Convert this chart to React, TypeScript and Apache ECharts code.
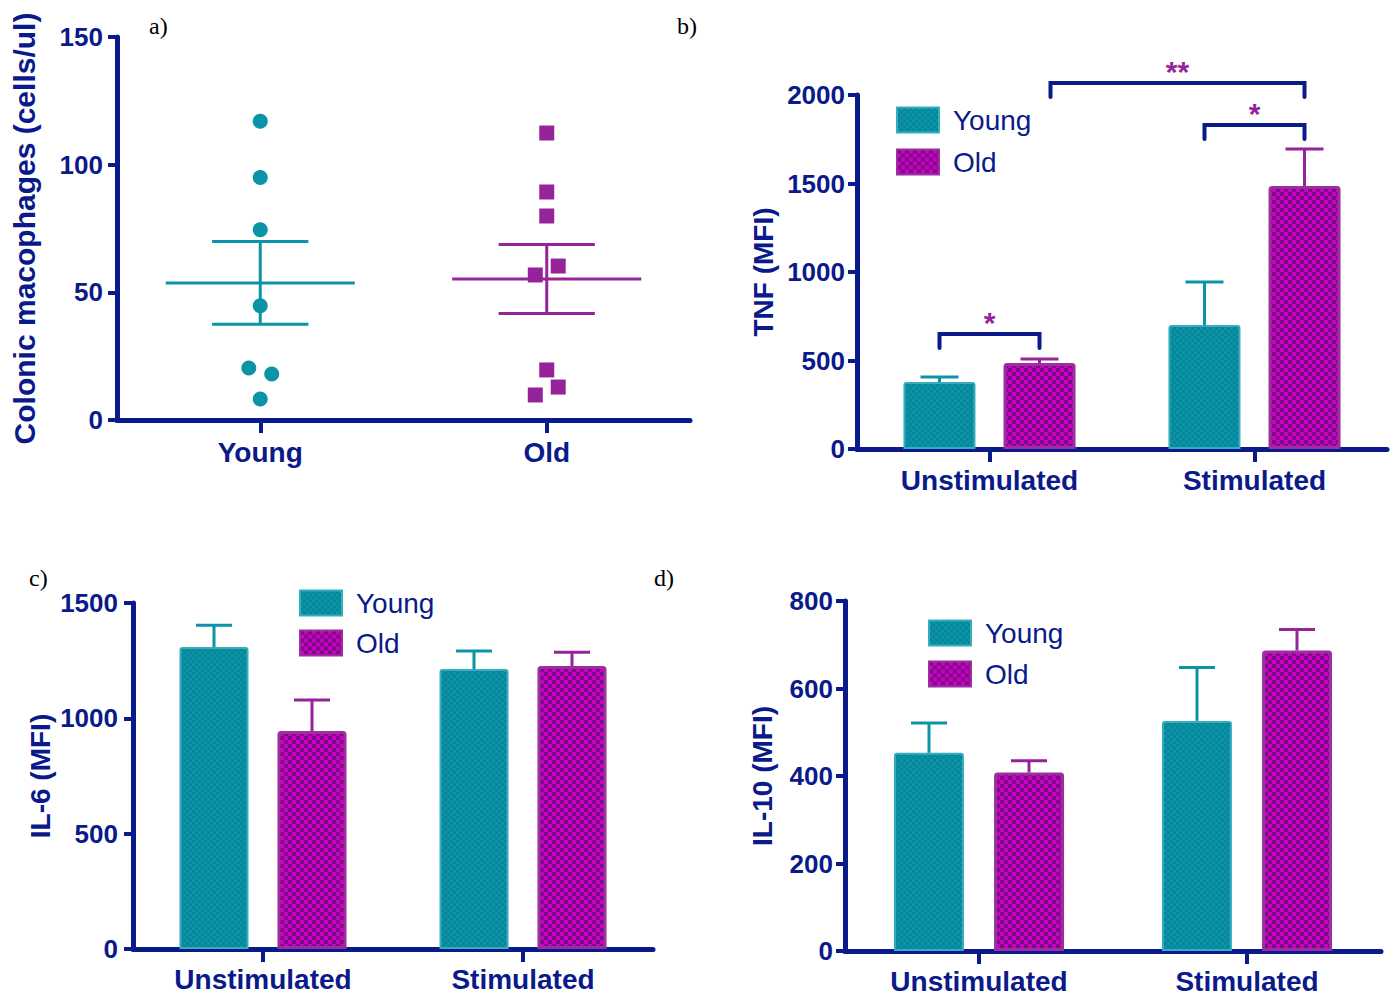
import { useEffect, useRef } from "react";
import * as echarts from "echarts";

// ---------- data ----------
// Panel a: colonic macrophages (cells/ul)
const groupsA = ["Young", "Old"];
const youngPoints = [117, 95, 74.5, 44.7, 20.4, 18, 8.2];
const youngJitter = [0, 0, 0, 0, -0.04, 0.04, 0];
const oldPoints = [112.4, 89.3, 79.9, 56.8, 60.3, 19.6, 12.9, 9.8];
const oldJitter = [0, 0, 0, -0.04, 0.04, 0, 0.04, -0.04];
const meansA = [53.7, 55.2];
const semsA = [16.2, 13.5];

// Panels b-d
const conditions = ["Unstimulated", "Stimulated"];
const tnfYoung = [378, 700];
const tnfYoungSem = [29, 244];
const tnfOld = [486, 1486];
const tnfOldSem = [22, 209];

const il6Young = [1309, 1214];
const il6YoungSem = [95, 78];
const il6Old = [945, 1227];
const il6OldSem = [134, 60];

const il10Young = [453, 526];
const il10YoungSem = [68, 122];
const il10Old = [408, 687];
const il10OldSem = [27, 48];

// significance brackets on TNF panel: [category, side] ends, height, label
const tnfBrackets = [
  { from: [0, -1], to: [0, 1], y: 650, label: "*" },
  { from: [0, 1.22], to: [1, 1], y: 2068, label: "**" },
  { from: [1, -1], to: [1, 1], y: 1831, label: "*" },
];

// ---------- style ----------
const NAVY = "#0a1a8a";
const TEAL = "#0b93a7";
const TEAL_DARK = "#07869a";
const TEAL_BORDER = "#35adbd";
const MAG = "#c800c8";
const MAG_DARK = "#7c0a80";
const PURPLE = "#95249a";
const PURPLE_BORDER = "#9c2e9e";
const FONT = "'Liberation Sans', Arial, Helvetica, sans-serif";

function checker(c1: string, c2: string, cell: number) {
  const cv = document.createElement("canvas");
  cv.width = cell * 2;
  cv.height = cell * 2;
  const ctx = cv.getContext("2d")!;
  ctx.fillStyle = c1;
  ctx.fillRect(0, 0, cell * 2, cell * 2);
  ctx.fillStyle = c2;
  ctx.fillRect(0, 0, cell, cell);
  ctx.fillRect(cell, cell, cell, cell);
  return {
    image: cv.toDataURL(),
    repeat: "repeat",
    imageWidth: cell * 2,
    imageHeight: cell * 2,
  } as any;
}

export default function App() {
  const ref = useRef<HTMLDivElement>(null);

  useEffect(() => {
    if (!ref.current) return;
    const chart = echarts.init(ref.current, undefined, { renderer: "svg" });

    const youngFill = checker(TEAL, TEAL_DARK, 3);
    const oldFill = checker(MAG, MAG_DARK, 4);

    const axisLine = { show: true, onZero: false, lineStyle: { color: NAVY, width: 5 } };
    const yTick = { show: true, length: 9, lineStyle: { color: NAVY, width: 4 } };
    const xTick = { show: true, alignWithLabel: true, length: 13, lineStyle: { color: NAVY, width: 4 } };
    const yLabel = (margin: number) => ({
      color: NAVY,
      fontSize: 26,
      fontWeight: "bold",
      fontFamily: FONT,
      margin,
      formatter: (v: number) => String(v),
    });
    const xLabel = (margin: number) => ({
      color: NAVY,
      fontSize: 28,
      fontWeight: "bold",
      fontFamily: FONT,
      margin,
    });
    const yName = (name: string, gap: number, size = 28) => ({
      name,
      nameLocation: "middle",
      nameRotate: 90,
      nameGap: gap,
      nameTextStyle: { color: NAVY, fontSize: size, fontWeight: "bold", fontFamily: FONT },
    });

    const valueY = (grid: number, max: number, interval: number, name: string, gap: number, margin: number, size = 28) => ({
      type: "value",
      gridIndex: grid,
      min: 0,
      max,
      interval,
      ...yName(name, gap, size),
      axisLine,
      axisTick: yTick,
      axisLabel: yLabel(margin),
      splitLine: { show: false },
    });

    const catX = (grid: number, data: string[], margin: number) => ({
      type: "category",
      gridIndex: grid,
      data,
      axisLine,
      axisTick: xTick,
      axisLabel: xLabel(margin),
      splitLine: { show: false },
    });

    const barSeries = (grid: number, xIdx: number, name: string, values: number[], isOld: boolean, width: number, gap: number) => ({
      type: "bar",
      name,
      xAxisIndex: xIdx,
      yAxisIndex: grid,
      data: values,
      barWidth: width,
      barGap: `${Math.round((gap / width) * 100)}%`,
      itemStyle: {
        color: isOld ? oldFill : youngFill,
        borderColor: isOld ? PURPLE_BORDER : TEAL_BORDER,
        borderWidth: isOld ? 3 : 2,
        borderRadius: [2, 2, 0, 0],
      },
      z: 3,
    });

    const errSeries = (grid: number, xIdx: number, values: number[], sems: number[], side: number, offset: number, capW: number, color: string) => ({
      type: "custom",
      xAxisIndex: xIdx,
      yAxisIndex: grid,
      z: 4,
      silent: true,
      data: values.map((v, i) => [i, v, v + sems[i]]),
      renderItem: (_p: any, api: any) => {
        const base = api.coord([api.value(0), api.value(1)]);
        const top = api.coord([api.value(0), api.value(2)]);
        const x = base[0] + side * offset;
        const st = { stroke: color, lineWidth: 3 };
        return {
          type: "group",
          children: [
            { type: "line", shape: { x1: x, y1: base[1], x2: x, y2: top[1] }, style: st },
            { type: "line", shape: { x1: x - capW / 2, y1: top[1], x2: x + capW / 2, y2: top[1] }, style: st },
          ],
        };
      },
    });

    const legend = (left: number, top: number, gap: number) => ({
      data: ["Young", "Old"],
      left,
      top,
      orient: "vertical",
      icon: "rect",
      itemWidth: 42,
      itemHeight: 25,
      itemGap: gap,
      selectedMode: false,
      textStyle: { color: NAVY, fontSize: 28, fontFamily: FONT, padding: [0, 0, 0, 9] },
    });

    const OFF_B = 50, OFF_C = 49, OFF_D = 50;

    const option: any = {
      animation: false,
      backgroundColor: "#ffffff",
      grid: [
        { left: 117, top: 37, width: 573, height: 383 },
        { left: 857, top: 95, width: 530, height: 354 },
        { left: 133, top: 603, width: 520, height: 346 },
        { left: 845, top: 601, width: 536, height: 353 },
      ],
      xAxis: [
        catX(0, groupsA, 18),
        { type: "value", gridIndex: 0, min: -0.5, max: 1.5, show: false },
        catX(1, conditions, 17),
        catX(2, conditions, 16),
        catX(3, conditions, 16),
      ],
      yAxis: [
        valueY(0, 150, 50, "Colonic macophages (cells/ul)", 78, 14, 30),
        valueY(1, 2000, 500, "TNF (MFI)", 80, 12),
        valueY(2, 1500, 500, "IL-6 (MFI)", 79, 15),
        valueY(3, 800, 200, "IL-10 (MFI)", 69, 12),
      ],
      legend: [legend(891, 101, 14), legend(294, 584, 12), legend(923, 614, 13)],
      series: [
        // panel a
        {
          type: "scatter",
          xAxisIndex: 1,
          yAxisIndex: 0,
          symbol: "circle",
          symbolSize: 15,
          itemStyle: { color: TEAL, opacity: 1 },
          data: youngPoints.map((v, i) => [0 + youngJitter[i], v]),
          z: 3,
        },
        {
          type: "scatter",
          xAxisIndex: 1,
          yAxisIndex: 0,
          symbol: "rect",
          symbolSize: 15,
          itemStyle: { color: PURPLE, opacity: 1 },
          data: oldPoints.map((v, i) => [1 + oldJitter[i], v]),
          z: 3,
        },
        {
          type: "custom",
          xAxisIndex: 1,
          yAxisIndex: 0,
          z: 4,
          silent: true,
          data: meansA.map((m, i) => [i, m, semsA[i]]),
          renderItem: (_p: any, api: any) => {
            const x = api.value(0);
            const m = api.value(1);
            const s = api.value(2);
            const color = x === 0 ? TEAL : PURPLE;
            const st = { stroke: color, lineWidth: 3 };
            const ml = api.coord([x - 0.33, m]);
            const mr = api.coord([x + 0.33, m]);
            const ul = api.coord([x - 0.168, m + s]);
            const ur = api.coord([x + 0.168, m + s]);
            const dl = api.coord([x - 0.168, m - s]);
            const dr = api.coord([x + 0.168, m - s]);
            const cx = api.coord([x, m])[0];
            return {
              type: "group",
              children: [
                { type: "line", shape: { x1: ml[0], y1: ml[1], x2: mr[0], y2: mr[1] }, style: st },
                { type: "line", shape: { x1: ul[0], y1: ul[1], x2: ur[0], y2: ur[1] }, style: st },
                { type: "line", shape: { x1: dl[0], y1: dl[1], x2: dr[0], y2: dr[1] }, style: st },
                { type: "line", shape: { x1: cx, y1: ul[1], x2: cx, y2: dl[1] }, style: st },
              ],
            };
          },
        },
        // panel b: TNF
        barSeries(1, 2, "Young", tnfYoung, false, 72, 28),
        barSeries(1, 2, "Old", tnfOld, true, 72, 28),
        errSeries(1, 2, tnfYoung, tnfYoungSem, -1, OFF_B, 38, TEAL),
        errSeries(1, 2, tnfOld, tnfOldSem, 1, OFF_B, 38, PURPLE),
        {
          type: "custom",
          xAxisIndex: 2,
          yAxisIndex: 1,
          z: 5,
          silent: true,
          data: tnfBrackets.map((b) => [b.from[0], b.from[1], b.to[0], b.to[1], b.y]),
          renderItem: (p: any, api: any) => {
            const y = api.value(4);
            const a = api.coord([api.value(0), y]);
            const b = api.coord([api.value(2), y]);
            const x1 = a[0] + api.value(1) * OFF_B;
            const x2 = b[0] + api.value(3) * OFF_B;
            const yy = a[1];
            const leg = 14;
            return {
              type: "group",
              children: [
                {
                  type: "polyline",
                  shape: { points: [[x1, yy + leg], [x1, yy], [x2, yy], [x2, yy + leg]] },
                  style: { stroke: NAVY, lineWidth: 4, fill: null, lineCap: "round" },
                },
                {
                  type: "text",
                  x: (x1 + x2) / 2,
                  y: yy + 4,
                  style: {
                    text: tnfBrackets[p.dataIndex].label,
                    fill: PURPLE,
                    fontSize: 30,
                    fontWeight: "bold",
                    fontFamily: FONT,
                    align: "center",
                    verticalAlign: "bottom",
                  },
                },
              ],
            };
          },
        },
        // panel c: IL-6
        barSeries(2, 3, "Young", il6Young, false, 69, 29),
        barSeries(2, 3, "Old", il6Old, true, 69, 29),
        errSeries(2, 3, il6Young, il6YoungSem, -1, OFF_C, 36, TEAL),
        errSeries(2, 3, il6Old, il6OldSem, 1, OFF_C, 36, PURPLE),
        // panel d: IL-10
        barSeries(3, 4, "Young", il10Young, false, 70, 30),
        barSeries(3, 4, "Old", il10Old, true, 70, 30),
        errSeries(3, 4, il10Young, il10YoungSem, -1, OFF_D, 36, TEAL),
        errSeries(3, 4, il10Old, il10OldSem, 1, OFF_D, 36, PURPLE),
      ],
      graphic: [
        { type: "text", left: 149, top: 14, style: { text: "a)", fill: "#000", font: "24px 'Liberation Serif', 'DejaVu Serif', serif" } },
        { type: "text", left: 677, top: 14, style: { text: "b)", fill: "#000", font: "24px 'Liberation Serif', 'DejaVu Serif', serif" } },
        { type: "text", left: 29, top: 566, style: { text: "c)", fill: "#000", font: "24px 'Liberation Serif', 'DejaVu Serif', serif" } },
        { type: "text", left: 654, top: 566, style: { text: "d)", fill: "#000", font: "24px 'Liberation Serif', 'DejaVu Serif', serif" } },
      ],
    };

    chart.setOption(option);
    return () => chart.dispose();
  }, []);

  return (
    <div
      ref={ref}
      style={{ position: "fixed", left: 0, top: 0, width: 1400, height: 995, background: "#fff" }}
    />
  );
}
